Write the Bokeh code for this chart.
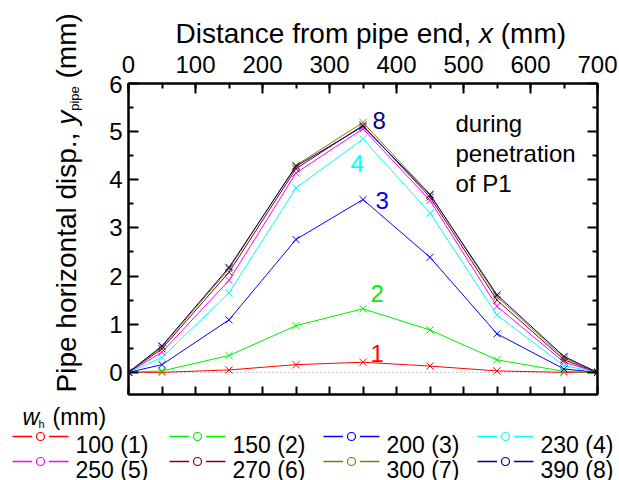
from bokeh.plotting import figure
from bokeh.models import Range1d, LinearAxis, FixedTicker, Span, Label
from bokeh.layouts import column, row
from bokeh.embed import file_html
from bokeh.resources import INLINE
from bokeh.core.properties import value

# ---------------- data ----------------
x_mm = [0, 50, 150, 250, 350, 450, 550, 650, 700]
s1 = [0, 0.00, 0.05, 0.16, 0.21, 0.13, 0.03, 0.00, 0]
s2 = [0, 0.03, 0.35, 0.97, 1.32, 0.88, 0.26, 0.02, 0]
s3 = [0, 0.16, 1.09, 2.76, 3.59, 2.39, 0.80, 0.07, 0]
s4 = [0, 0.31, 1.65, 3.83, 4.85, 3.31, 1.19, 0.14, 0]
s5 = [0, 0.42, 1.91, 4.14, 5.06, 3.57, 1.37, 0.21, 0]
s6 = [0, 0.49, 2.08, 4.23, 5.13, 3.64, 1.50, 0.26, 0]
s7 = [0, 0.53, 2.15, 4.30, 5.19, 3.70, 1.57, 0.30, 0]
s8 = [0, 0.55, 2.18, 4.28, 5.11, 3.69, 1.61, 0.33, 0]
series = [s1, s2, s3, s4, s5, s6, s7, s8]
wh_values = [100, 150, 200, 230, 250, 270, 300, 390]
case_ids = [1, 2, 3, 4, 5, 6, 7, 8]
x_ticks = [0, 100, 200, 300, 400, 500, 600, 700]
y_ticks = [0, 1, 2, 3, 4, 5, 6]

colors = ["#FF0000", "#00EE00", "#0000FF", "#00FFFF",
          "#FF00FF", "#800000", "#808000", "#000080"]

FONT = "Liberation Sans"

# Arial / Liberation Sans advance widths (em)
W = {' ': .278, ',': .278, '.': .278, '(': .333, ')': .333, 'a': .556, 'c': .5,
     'd': .556, 'e': .556, 'f': .278, 'h': .556, 'i': .222, 'l': .222, 'm': .833,
     'n': .556, 'o': .556, 'p': .556, 'r': .333, 's': .5, 't': .278, 'x': .5,
     'y': .5, 'z': .5, 'D': .722, 'P': .667}


def tw(s, size):
    return sum(W.get(c, .556) for c in s) * size


# ---------------- geometry (canvas px) ----------------
CW, CH = 619, 480
FL, FR, FT, FB = 128, 597, 83, 394      # plot frame
LW = 100                                # left strip width
TH = 75                                 # top strip height
H1 = 400                                # height of upper block
X0, X1 = 0, 700
Y0, Y1 = -0.46, 6


def mx(px):
    return X0 + (px - FL) * (X1 - X0) / (FR - FL)


def vy(py):
    return Y1 - (py - FT) * (Y1 - Y0) / (FB - FT)


def strip(w, h, xr, yr):
    f = figure(width=w, height=h, x_range=xr, y_range=yr, output_backend="svg",
               toolbar_location=None, x_axis_location=None, y_axis_location=None,
               min_border=0)
    f.outline_line_color = None
    f.xgrid.visible = False
    f.ygrid.visible = False
    f.frame_align = False
    return f


def pieces_text(fig, pieces, x0, y0, horizontal, **common):
    """Draw consecutive text pieces (leading/trailing spaces turned into offsets)."""
    pos = 0.0
    for txt, style, size, shift in pieces:
        lead = len(txt) - len(txt.lstrip(" "))
        core = txt.strip(" ")
        pos += tw(" " * lead, size)
        if horizontal:
            x, y, ang = x0 + pos, y0 + shift, 0
        else:
            x, y, ang = x0 + shift, y0 + pos, 90
        fig.text(x=[x], y=[y], text=[core], text_font=value(FONT),
                 text_font_size=value(f"{size}px"), text_font_style=style,
                 angle=ang, angle_units="deg", **common)
        pos += tw(txt.lstrip(" "), size)


# ---------------- main plot ----------------
p = figure(width=CW - LW, height=H1 - TH, x_range=Range1d(X0, X1), y_range=Range1d(Y0, Y1),
           output_backend="svg", toolbar_location=None,
           x_axis_location=None, y_axis_location=None,
           min_border_left=FL - LW, min_border_right=CW - FR,
           min_border_top=FT - TH, min_border_bottom=H1 - FB)
p.frame_align = False
p.outline_line_color = "black"
p.outline_line_width = 2
p.xgrid.visible = False
p.ygrid.visible = False


def style_axis(ax, labels, tick_in, minor_in):
    ax.axis_line_width = 2
    ax.axis_line_color = "black"
    ax.major_tick_in = tick_in
    ax.major_tick_out = 0
    ax.minor_tick_in = minor_in
    ax.minor_tick_out = 0
    ax.major_tick_line_width = 2
    ax.minor_tick_line_width = 2
    ax.major_tick_line_color = "black"
    ax.minor_tick_line_color = "black"
    ax.major_label_text_font = FONT
    if labels:
        ax.major_label_text_font_size = "24px"
        ax.major_label_text_color = "black"
    else:
        ax.major_label_text_font_size = "0px"
        ax.major_label_text_color = None
        ax.major_label_standoff = 0


xt = FixedTicker(ticks=x_ticks, minor_ticks=list(range(0, 701, 50)))
yt = FixedTicker(ticks=y_ticks, minor_ticks=[v + 0.5 for v in y_ticks[:-1]])

top = LinearAxis(ticker=xt)
style_axis(top, False, 10, 5)
p.add_layout(top, "above")

bottom = LinearAxis(ticker=FixedTicker(ticks=list(range(0, 701, 50))))
style_axis(bottom, False, 8, 0)
p.add_layout(bottom, "below")

left = LinearAxis(ticker=yt)
style_axis(left, True, 10, 5)
left.major_label_standoff = 6
p.add_layout(left, "left")

right = LinearAxis(ticker=yt)
style_axis(right, False, 10, 5)
p.add_layout(right, "right")

p.add_layout(Span(location=0, dimension="width", line_color="#888888",
                  line_dash="1 3", line_width=1, level="underlay"))

for ys, c in zip(series, colors):
    p.line(x_mm, ys, line_color=c, line_width=1)
    p.scatter(x_mm, ys, marker="x", size=10, line_color=c, line_width=1)

num_pos = {8: (372, 120), 4: (350, 163), 3: (375, 200), 2: (370, 293), 1: (370, 353)}
for k, (px, py) in num_pos.items():
    p.add_layout(Label(x=mx(px), y=vy(py), text=str(k), text_font=FONT, text_font_size="24px",
                       text_color=colors[k - 1], text_baseline="alphabetic", text_align="left"))

for txt, py in [("during", 123), ("penetration", 153), ("of P1", 183)]:
    p.add_layout(Label(x=mx(455), y=vy(py), text=txt, text_font=FONT, text_font_size="24px",
                       text_color="black", text_baseline="alphabetic", text_align="left"))

# ---------------- top strip: x tick labels + title (pixel coords) ----------------
t = strip(CW - LW, TH, Range1d(LW, CW), Range1d(TH, 0))
t_scale = (FR - FL) / (X1 - X0)
t.text(x=[FL + (v - X0) * t_scale for v in x_ticks], y=[64] * len(x_ticks),
       text=[str(v) for v in x_ticks],
       text_font=value(FONT), text_font_size=value("24px"), text_align="center",
       text_baseline="alphabetic", text_color="black")
TS = 28
pieces_text(t, [("Distance from pipe end, ", "normal", TS, 0), ("x", "italic", TS, 0),
                (" (mm)", "normal", TS, 0)], 175, 33, True,
            text_baseline="alphabetic", text_align="left", text_color="black")

# ---------------- left strip: rotated y title (pixel coords, y up) ----------------
ls = strip(LW, H1, Range1d(0, LW), Range1d(0, H1))
SUB = 13
pieces_text(ls, [("Pipe horizontal disp., ", "normal", TS, 0), ("y", "italic", TS, 0),
                 ("pipe", "normal", SUB, 8), (" (mm)", "normal", TS, 0)],
            66, H1 - 392, False,
            text_baseline="alphabetic", text_align="left", text_color="black")

# ---------------- legend strip ----------------
q = strip(CW, CH - H1, Range1d(0, CW), Range1d(CH, H1))
col_x = [75, 232, 386, 540]
row_y = [436, 461]
for k in range(8):
    cx = col_x[k % 4]
    ry = row_y[k // 4]
    c = colors[k]
    q.line([cx - 63, cx - 7], [ry, ry], line_color=c, line_width=1.5)
    q.scatter([cx - 35], [ry], marker="circle", size=17, line_color=None, fill_color="white")
    q.scatter([cx - 35], [ry], marker="circle", size=8, line_color=c, fill_color=None,
              line_width=1.2)
    q.text([cx], [ry + 8], text=[f"{wh_values[k]} ({case_ids[k]})"], text_font=value(FONT),
           text_font_size=value("23px"), text_baseline="alphabetic", text_align="left",
           text_color="black")

q.text([22], [416], text=["w"], text_font=value(FONT), text_font_size=value("23px"),
       text_font_style="italic", text_baseline="alphabetic", text_color="black")
q.text([38], [423], text=["h"], text_font=value(FONT), text_font_size=value("11px"),
       text_baseline="alphabetic", text_color="black")
q.text([52], [416], text=["(mm)"], text_font=value(FONT), text_font_size=value("23px"),
       text_baseline="alphabetic", text_color="black")

layout = column(row(ls, column(t, p, spacing=0), spacing=0), q, spacing=0)
open("out.html", "w").write(file_html(layout, INLINE))
